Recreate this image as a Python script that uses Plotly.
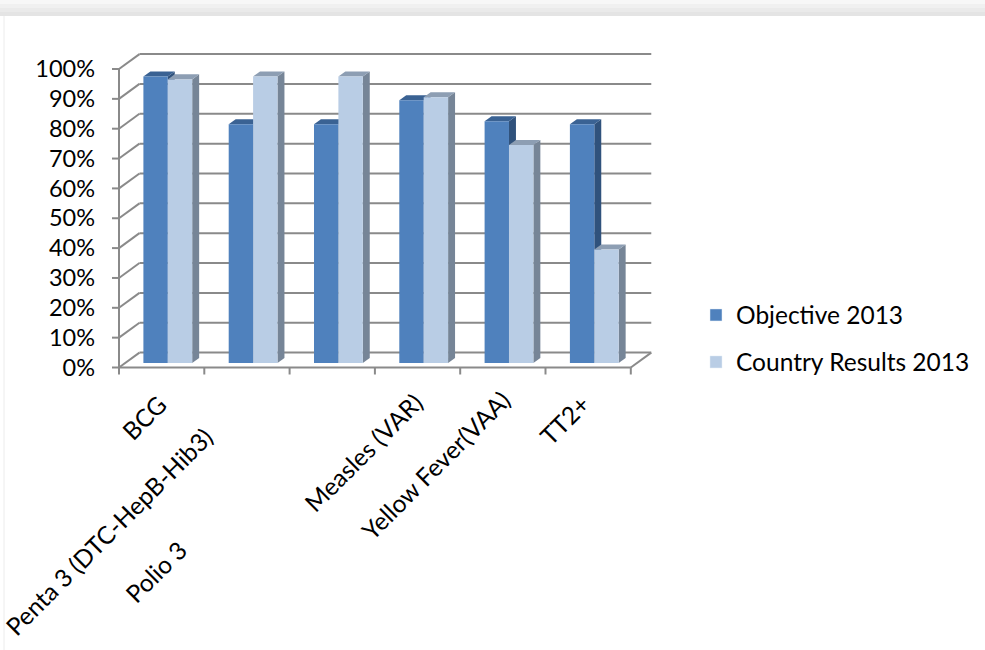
import plotly.graph_objects as go

# ---------------- data ----------------
categories = ["BCG", "Penta 3 (DTC-HepB-Hib3)", "Polio 3", "Measles (VAR)",
              "Yellow Fever(VAA)", "TT2+"]
objective_2013 = [96, 80, 80, 88, 81, 80]
country_results_2013 = [95, 96, 96, 89, 73, 38]
y_ticks = [0, 10, 20, 30, 40, 50, 60, 70, 80, 90, 100]
series_names = ["Objective 2013", "Country Results 2013"]

# ---------------- layout constants ----------------
W, H = 985, 650
PX_PER_CAT = 85.3          # px per category (front plane)
PX_PER_PCT = 2.985         # px per percent (front plane)
AXIS_X_PX = 119            # px of front-left axis
AXIS_Y_PX = 367.5          # px of front 0%
MARGIN_L = 96
PLOT_W = W - MARGIN_L
DX = 0.24                  # depth offset in category units
DY = 5.0                   # depth offset in percent units
BAR_FRONT = 0.30           # depth fraction of bar front face
BAR_DEPTH = 0.34           # depth fraction of bar thickness
BAR_W = 0.286
FONT = "Lato"
FS = 23.5
FS_LAB = 24.5
GRID = "#8a8a8a"

n = len(categories)
xmin = -0.5 - (AXIS_X_PX - MARGIN_L) / PX_PER_CAT
xmax = xmin + PLOT_W / PX_PER_CAT
ytop = AXIS_Y_PX / PX_PER_PCT
ybot = (AXIS_Y_PX - H) / PX_PER_PCT


def px_to_paper_x(px):
    return (px - MARGIN_L) / PLOT_W


fig = go.Figure()


def line_trace(xs, ys, color=GRID, width=2):
    return go.Scatter(x=xs, y=ys, mode="lines", line=dict(color=color, width=width),
                      hoverinfo="skip", showlegend=False)


# back wall gridlines + left wall diagonals
gx, gy, lx, ly = [], [], [], []
for v in y_ticks:
    gx += [-0.5 + DX, n - 0.5 + DX, None]
    gy += [v + DY, v + DY, None]
    lx += [-0.5, -0.5 + DX, None]
    ly += [v, v + DY, None]
fig.add_trace(line_trace(gx, gy))
fig.add_trace(line_trace(lx, ly))

# floor: right diagonal, front edge, front vertical axis
fig.add_trace(line_trace([n - 0.5, n - 0.5 + DX], [0, DY]))
fig.add_trace(line_trace([-0.5, n - 0.5], [0, 0]))
fig.add_trace(line_trace([-0.5, -0.5], [0, y_ticks[-1]]))

# x tick marks (down) and y tick marks (left)
tick_len_y = 7 / PX_PER_PCT
tick_len_x = 7 / PX_PER_CAT
tx, ty = [], []
for k in range(n + 1):
    tx += [k - 0.5, k - 0.5, None]
    ty += [0, -tick_len_y, None]
for v in y_ticks:
    tx += [-0.5 - tick_len_x, -0.5, None]
    ty += [v, v, None]
fig.add_trace(line_trace(tx, ty))

# bars (front, top, side faces)
styles = [
    dict(front="#4F81BD", top="#3A6293", side="#30527C", x0=-BAR_W, x1=0.0),
    dict(front="#B9CDE5", top="#8D9EB3", side="#768597", x0=0.0, x1=BAR_W),
]
s1, b1 = BAR_FRONT * DX, BAR_FRONT * DY
s2, b2 = (BAR_FRONT + BAR_DEPTH) * DX, (BAR_FRONT + BAR_DEPTH) * DY


def poly(xs, ys, color):
    return go.Scatter(x=xs + [xs[0]], y=ys + [ys[0]], mode="lines", fill="toself",
                      fillcolor=color, line=dict(width=0, color=color),
                      hoverinfo="skip", showlegend=False)


for i in range(n):
    for st, vals in zip(styles, [objective_2013, country_results_2013]):
        v = vals[i]
        x0, x1 = i + st["x0"], i + st["x1"]
        # side face
        fig.add_trace(poly([x1 + s1, x1 + s2, x1 + s2, x1 + s1],
                           [b1, b2, v + b2, v + b1], st["side"]))
        # top face
        fig.add_trace(poly([x0 + s1, x1 + s1, x1 + s2, x0 + s2],
                           [v + b1, v + b1, v + b2, v + b2], st["top"]))
        # front face
        fig.add_trace(poly([x0 + s1, x1 + s1, x1 + s1, x0 + s1],
                           [b1, b1, v + b1, v + b1], st["front"]))

# legend entries (two separate legends for exact spacing)
fig.add_trace(go.Bar(x=[None], y=[None], name=series_names[0], marker_color=styles[0]["front"],
                     showlegend=True, legend="legend"))
fig.add_trace(go.Bar(x=[None], y=[None], name=series_names[1], marker_color=styles[1]["front"],
                     showlegend=True, legend="legend2"))

# category labels (rotated), offsets in px from front category center
label_offsets = [(5, 29), (-34, 62), (-145, 175), (5, 27), (7, 25), (2, 29)]
for i, (lab, (ox, oy)) in enumerate(zip(categories, label_offsets)):
    fig.add_annotation(x=i, y=0, xref="x", yref="y", text=lab, showarrow=False,
                       textangle=-45, xanchor="right", yanchor="top",
                       xshift=ox + 8, yshift=-(oy - 10),
                       font=dict(family=FONT, size=FS_LAB, color="#000000"))

# top grey band and faint left border (full figure width)
band = ["#f7f7f7", "#f0f0f0", "#eaeaea", "#e4e4e4"]
for k, c in enumerate(band):
    fig.add_shape(type="rect", xref="paper", yref="paper",
                  x0=px_to_paper_x(0), x1=px_to_paper_x(W),
                  y0=1 - (k + 1) * 4 / H, y1=1 - k * 4 / H,
                  fillcolor=c, line=dict(width=0), layer="below")
fig.add_shape(type="line", xref="paper", yref="paper",
              x0=px_to_paper_x(4), x1=px_to_paper_x(4),
              y0=0, y1=1 - 16 / H, line=dict(color="#ececec", width=1), layer="below")

legend_common = dict(xanchor="left", yanchor="middle", bgcolor="rgba(0,0,0,0)",
                     font=dict(family=FONT, size=FS_LAB, color="#000000"),
                     itemwidth=30, borderwidth=0)

fig.update_layout(
    width=W, height=H,
    margin=dict(l=MARGIN_L, r=0, t=0, b=0),
    paper_bgcolor="white", plot_bgcolor="rgba(0,0,0,0)",
    barmode="overlay",
    xaxis=dict(range=[xmin, xmax], visible=False, fixedrange=True),
    yaxis=dict(range=[ybot, ytop], tickvals=y_ticks,
               ticktext=[f"{v}%" for v in y_ticks],
               showgrid=False, zeroline=False, showline=False, ticks="",
               tickfont=dict(family=FONT, size=FS, color="#000000"),
               fixedrange=True),
    legend=dict(x=px_to_paper_x(696), y=1 - 315 / H, **legend_common),
    legend2=dict(x=px_to_paper_x(696), y=1 - 362 / H, **legend_common),
    showlegend=True,
)

fig.write_html("out.html")
